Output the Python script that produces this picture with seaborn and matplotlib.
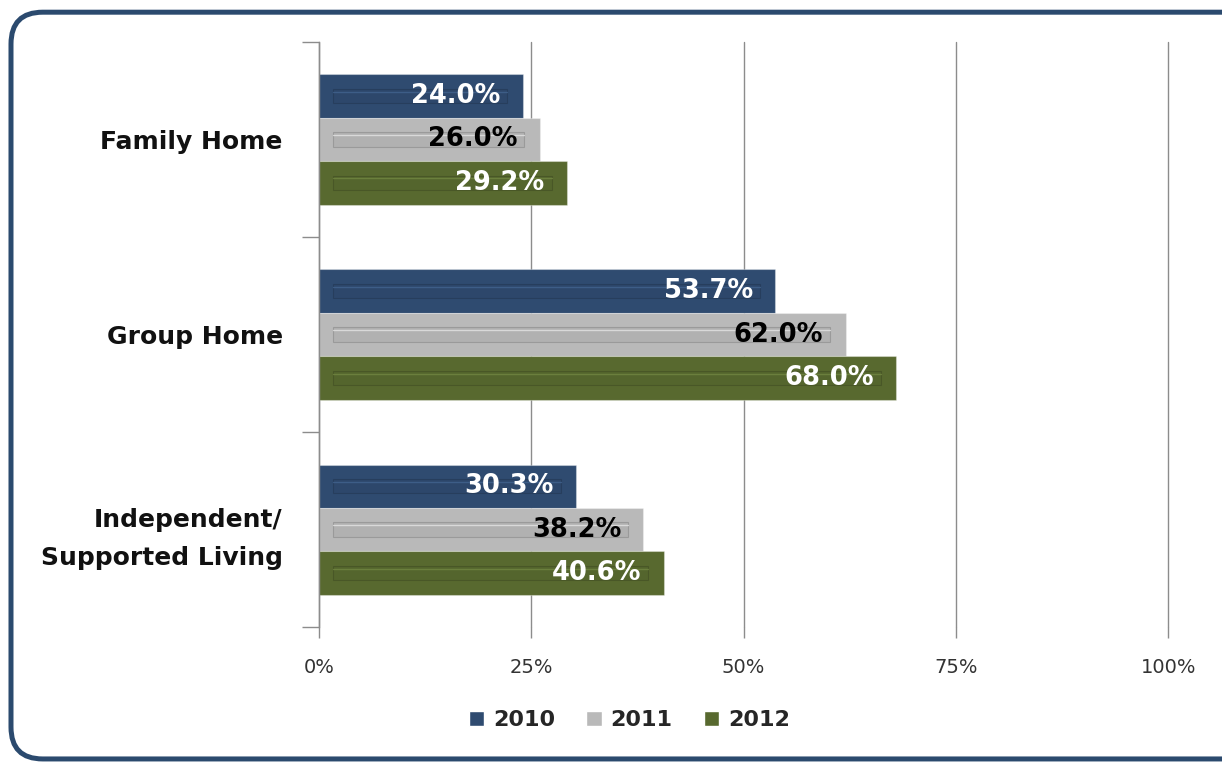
import pandas as pd
import numpy as np
import matplotlib.pyplot as plt
import seaborn as sns
from matplotlib.patches import FancyBboxPatch, Rectangle

categorias = ["Family Home", "Group Home", "Independent/\nSupported Living"]
anos = ["2010", "2011", "2012"]
valores_2010 = [24.0, 53.7, 30.3]
valores_2011 = [26.0, 62.0, 38.2]
valores_2012 = [29.2, 68.0, 40.6]

cores = ["#2f4b70", "#b9b9b9", "#58692f"]
cores_texto = ["white", "black", "white"]

df = pd.DataFrame({
    "categoria": categorias * 3,
    "ano": [a for a in anos for _ in categorias],
    "valor": valores_2010 + valores_2011 + valores_2012,
})

sns.set_theme(style="white")
plt.rcParams["font.family"] = ["DejaVu Sans"]

fig = plt.figure(figsize=(12.22, 7.62), dpi=100)
ax = fig.add_axes([0.261, 0.177, 0.695, 0.768])

# moldura arredondada
moldura = FancyBboxPatch((0.009, 0.004), 1.05, 0.98, boxstyle="round,pad=0,rounding_size=0.026",
                         transform=fig.transFigure, facecolor="white", edgecolor="#2b4a6e",
                         linewidth=3.6, mutation_aspect=1222 / 762, zorder=-10)
fig.patches.append(moldura)
ax.set_facecolor("none")

sns.barplot(data=df, y="categoria", x="valor", hue="ano", orient="h",
            palette=cores, width=0.667, saturation=1, ax=ax, legend=True)

# efeito de brilho interno das barras (sutil)
for cont in ax.containers:
    for barra in cont:
        barra.set_edgecolor("#ffffff55")
        barra.set_linewidth(0.8)
        x0, y0 = barra.get_x(), barra.get_y()
        w, h = barra.get_width(), barra.get_height()
        cor = np.array(barra.get_facecolor()[:3])
        interno = Rectangle((x0 + 1.6, y0 + h / 3), w - 3.4, h / 3,
                            facecolor=tuple(cor * 0.95), edgecolor=tuple(cor * 0.8),
                            linewidth=0.8, alpha=0.8, zorder=barra.get_zorder() + 0.1)
        ax.add_patch(interno)
        ax.plot([x0 + 1.7, x0 + w - 1.8], [y0 + h * 0.4] * 2, color=tuple(np.minimum(cor * 1.2 + 0.05, 1)),
                linewidth=1, alpha=0.7, zorder=barra.get_zorder() + 0.2)

for cont, cor_txt in zip(ax.containers, cores_texto):
    ax.bar_label(cont, labels=[f"{v:.1f}%" for v in cont.datavalues], padding=-16,
                 color=cor_txt, fontsize=18.5, fontweight="bold", label_type="edge", zorder=5)

for txt in ax.texts:
    txt.set_horizontalalignment("right")
    txt.set_zorder(5)

ax.set_xlim(0, 100)
ax.set_ylim(2.5, -0.5)
ax.set_xticks([0, 25, 50, 75, 100])
ax.set_xticklabels(["0%", "25%", "50%", "75%", "100%"], fontsize=14, color="#333333")
ax.xaxis.grid(True, color="#8c8c8c", linewidth=1)
for linha in ax.get_xgridlines():
    linha.set_clip_on(False)
ax.yaxis.grid(False)
ax.set_yticks([0, 1, 2])
ax.set_yticklabels(categorias, fontsize=18, fontweight="bold", color="#111111", linespacing=1.75)
ax.set_yticks([-0.5, 0.5, 1.5, 2.5], minor=True)
ax.tick_params(axis="y", which="major", length=0, pad=26)
ax.tick_params(axis="y", which="minor", length=12, color="#8c8c8c", width=1, direction="out", left=True)
ax.tick_params(axis="x", length=8, color="#8c8c8c", width=1, direction="out", bottom=True, pad=14)
ax.set_xlabel("")
ax.set_ylabel("")
for lado in ["top", "right", "bottom"]:
    ax.spines[lado].set_visible(False)
ax.spines["left"].set_color("#8c8c8c")
ax.spines["left"].set_linewidth(1)

handles, labels = ax.get_legend_handles_labels()
ax.get_legend().remove()
fig.legend(handles, labels, loc="center", bbox_to_anchor=(0.515, 0.055), ncol=3, frameon=False,
           handlelength=0.7, handleheight=0.7, handletextpad=0.4, columnspacing=1.4,
           prop={"size": 16, "weight": "bold"})

fig.savefig("out.png", dpi=100)
